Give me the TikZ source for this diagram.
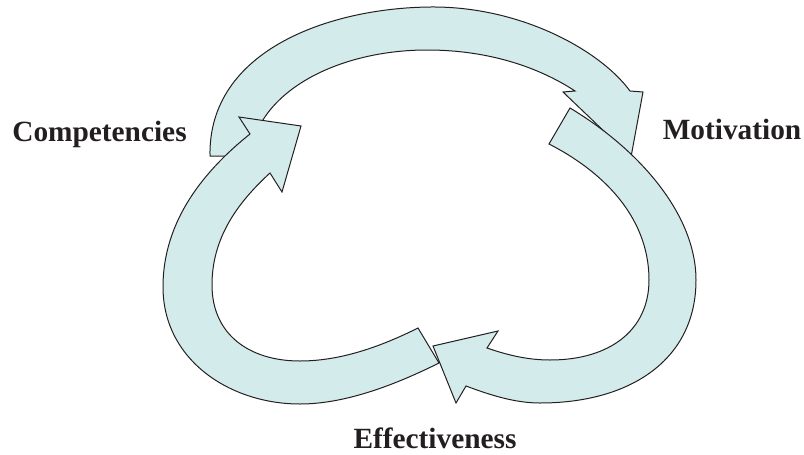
\documentclass[tikz,border=0pt]{standalone}
\usepackage{fontspec}
\setmainfont{Liberation Serif}
\usepackage{tikz}
\usetikzlibrary{positioning}

\definecolor{bandfill}{HTML}{D4EBEB}
\definecolor{inkline}{HTML}{231F20}

\begin{document}
\begin{tikzpicture}
                [x=0.75pt, y=-0.75pt,
                 band/.style={fill=bandfill, draw=inkline, line width=0.75pt, line join=miter},
                 every node/.style={text=inkline, font=\fontsize{22}{26}\selectfont\bfseries, anchor=base}]
                \useasboundingbox (0,0) rectangle (804,454);

                % upper arc, from competencies over to motivation
                \filldraw[band] (210,156) .. controls (208,50) and (330,8) .. (430,7)
                    .. controls (520,6) and (600,50) .. (630,91)
                    -- (643,92) -- (631,157) -- (563,92) -- (575,91)
                    .. controls (540,68) and (490,50) .. (427,50)
                    .. controls (340,50) and (258,90) .. (250,156) -- cycle;

                % left loop, from effectiveness up to competencies
                \filldraw[band] (439,363) .. controls (395,385) and (345,404) .. (300,404)
                    .. controls (230,404) and (163,360) .. (163,287)
                    .. controls (163,220) and (205,170) .. (250,134)
                    -- (239,117) -- (301,126) -- (282,192) -- (270,173)
                    .. controls (235,205) and (212,240) .. (212,285)
                    .. controls (212,335) and (250,361) .. (300,361)
                    .. controls (340,361) and (380,347) .. (418,328) -- cycle;

                % right loop, from motivation down to effectiveness
                \filldraw[band] (570,108) .. controls (640,150) and (696,215) .. (696,280)
                    .. controls (696,360) and (630,403) .. (540,403)
                    .. controls (515,403) and (490,395) .. (466,386)
                    -- (456,403) -- (433,346) -- (498,331) -- (487,348)
                    .. controls (510,356) and (530,360) .. (550,360)
                    .. controls (610,360) and (649,330) .. (649,280)
                    .. controls (649,215) and (600,170) .. (549,144) -- cycle;

                \node (comp) at (99.5,141) {Competencies};
                \node (motiv) at (732,139) {Motivation};
                \node (effect) at (435,448) {Effectiveness};

            \end{tikzpicture}
\end{document}
